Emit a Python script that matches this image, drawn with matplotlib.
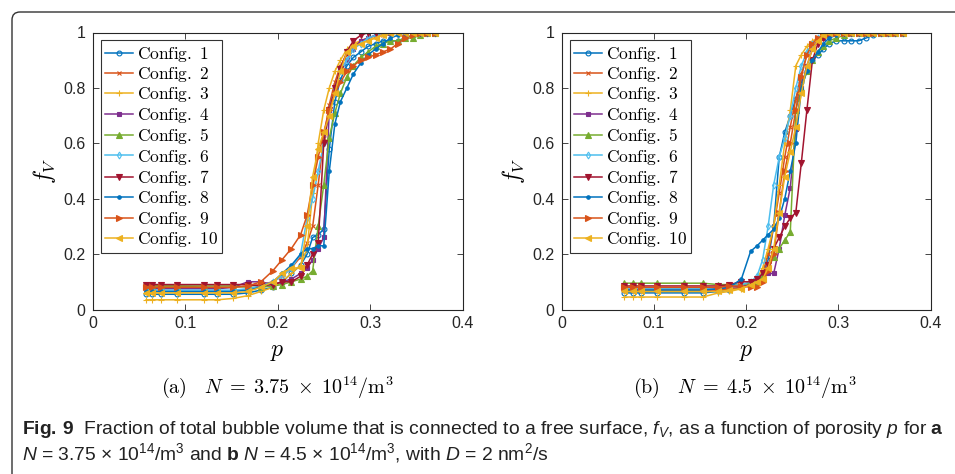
import matplotlib
matplotlib.use("Agg")
import matplotlib.pyplot as plt
from matplotlib.font_manager import FontProperties
from matplotlib.patches import FancyBboxPatch

# porosity sample points (shared per panel)
P_A = [0.058, 0.064, 0.074, 0.091, 0.12, 0.135, 0.152, 0.168, 0.182, 0.195, 0.205,
       0.215, 0.225, 0.232, 0.238, 0.244, 0.25, 0.256, 0.262, 0.268, 0.275, 0.282,
       0.29, 0.298, 0.306, 0.314, 0.322, 0.33, 0.338, 0.346, 0.354, 0.362, 0.37]
P_B = [0.068, 0.077, 0.086, 0.104, 0.133, 0.153, 0.17, 0.182, 0.195, 0.205, 0.212,
       0.218, 0.224, 0.23, 0.236, 0.242, 0.248, 0.254, 0.26, 0.266, 0.272, 0.278,
       0.284, 0.29, 0.298, 0.306, 0.314, 0.322, 0.33, 0.338, 0.346, 0.354, 0.362, 0.37]

# (a) N = 3.75e14 /m^3
A1 = [0.055]*7 + [0.06, 0.07, 0.08, 0.1, 0.13, 0.16, 0.2, 0.26, 0.27, 0.29, 0.58, 0.75, 0.83,
                  0.88, 0.91, 0.93, 0.95, 0.96, 0.97, 0.97, 0.97, 0.98, 0.99, 1, 1, 1]
A2 = [0.085]*4 + [0.08]*3 + [0.085, 0.09, 0.1, 0.12, 0.15, 0.19, 0.24, 0.3, 0.45, 0.62, 0.74,
                             0.82, 0.88, 0.92, 0.95, 0.97, 0.98, 0.99, 0.99] + [1]*7
A3 = [0.035]*6 + [0.04, 0.05, 0.065, 0.08, 0.1, 0.13, 0.16, 0.22, 0.42, 0.6, 0.72, 0.8, 0.86,
                  0.9, 0.94, 0.96, 0.97, 0.98, 0.98, 0.99, 0.99] + [1]*6
A4 = [0.075]*6 + [0.08, 0.1, 0.1, 0.09, 0.1, 0.11, 0.13, 0.15, 0.18, 0.22, 0.26, 0.72, 0.8,
                  0.86, 0.9, 0.94, 0.97, 0.98, 0.99] + [1]*8
A5 = [0.085]*7 + [0.08, 0.08, 0.085, 0.09, 0.1, 0.11, 0.12, 0.14, 0.3, 0.45, 0.62, 0.71, 0.78,
                  0.84, 0.88, 0.91, 0.93, 0.95, 0.96, 0.97, 0.97, 0.98, 0.98, 0.99, 1, 1]
A6 = [0.07]*7 + [0.075, 0.085, 0.1, 0.12, 0.15, 0.2, 0.33, 0.4, 0.5, 0.6, 0.72, 0.8, 0.86,
                 0.9, 0.94, 0.96, 0.98, 0.99] + [1]*8
A7 = [0.09]*7 + [0.09, 0.085, 0.09, 0.1, 0.1, 0.12, 0.16, 0.2, 0.24, 0.6, 0.72, 0.8, 0.87,
                 0.93, 0.97, 0.99] + [1]*10
A8 = [0.065]*7 + [0.07, 0.08, 0.1, 0.13, 0.16, 0.2, 0.22, 0.22, 0.23, 0.23, 0.5, 0.67, 0.75,
                  0.8, 0.85, 0.89, 0.92, 0.94, 0.96, 0.98, 0.99] + [1]*5
A9 = [0.08]*7 + [0.085, 0.1, 0.14, 0.18, 0.22, 0.27, 0.34, 0.45, 0.55, 0.64, 0.72, 0.78, 0.82,
                 0.86, 0.88, 0.9, 0.91, 0.92, 0.93, 0.94, 0.96, 0.98, 0.99, 1, 1, 1]
A10 = [0.06]*7 + [0.065, 0.08, 0.1, 0.13, 0.15, 0.15, 0.3, 0.48, 0.58, 0.64, 0.7, 0.78, 0.86,
                  0.93, 0.95, 0.96, 0.97, 0.98, 0.99] + [1]*7

# (b) N = 4.5e14 /m^3
B1 = [0.06]*6 + [0.065, 0.07, 0.08, 0.09, 0.1, 0.13, 0.18, 0.3, 0.55, 0.64, 0.7, 0.76, 0.82,
                 0.86, 0.9, 0.92, 0.94, 0.96, 0.97, 0.97, 0.97, 0.97, 0.98, 0.99] + [1]*4
B2 = [0.07]*6 + [0.07, 0.075, 0.08, 0.09, 0.1, 0.13, 0.2, 0.3, 0.42, 0.55, 0.66, 0.76, 0.85,
                 0.92, 0.96, 0.98, 0.99] + [1]*11
B3 = [0.045]*6 + [0.06, 0.065, 0.075, 0.09, 0.11, 0.15, 0.22, 0.3, 0.45, 0.6, 0.72, 0.88, 0.92,
                  0.95, 0.97, 0.98, 0.99] + [1]*11
B4 = [0.07]*6 + [0.075, 0.08, 0.085, 0.09, 0.1, 0.12, 0.13, 0.13, 0.22, 0.34, 0.44, 0.65, 0.8,
                 0.88, 0.94, 0.97, 0.98, 0.99] + [1]*10
B5 = [0.095]*6 + [0.09, 0.09, 0.09, 0.095, 0.1, 0.12, 0.15, 0.19, 0.22, 0.25, 0.28, 0.72, 0.8,
                  0.86, 0.9, 0.93, 0.95, 0.97, 0.98, 0.99] + [1]*8
B6 = [0.075]*6 + [0.08, 0.085, 0.09, 0.1, 0.12, 0.18, 0.3, 0.45, 0.55, 0.62, 0.7, 0.8, 0.88,
                  0.93, 0.96, 0.98, 0.99] + [1]*11
B7 = [0.085]*6 + [0.085, 0.09, 0.1, 0.1, 0.11, 0.13, 0.16, 0.22, 0.26, 0.3, 0.33, 0.35, 0.53,
                  0.72, 0.9, 0.96, 0.98, 0.99] + [1]*10
B8 = [0.07]*6 + [0.075, 0.08, 0.11, 0.21, 0.23, 0.25, 0.27, 0.29, 0.33, 0.4, 0.5, 0.6, 0.8,
                 0.86, 0.9, 0.93, 0.96, 0.98, 0.99] + [1]*9
B9 = [0.08]*6 + [0.08, 0.085, 0.085, 0.08, 0.08, 0.1, 0.14, 0.2, 0.35, 0.5, 0.6, 0.72, 0.84,
                 0.92, 0.96, 0.98, 0.99] + [1]*11
B10 = [0.065]*6 + [0.065, 0.07, 0.075, 0.09, 0.1, 0.11, 0.15, 0.22, 0.35, 0.48, 0.57, 0.66, 0.78,
                   0.88, 0.94, 0.97, 0.99] + [1]*11

SERIES_A = [A1, A2, A3, A4, A5, A6, A7, A8, A9, A10]
SERIES_B = [B1, B2, B3, B4, B5, B6, B7, B8, B9, B10]
LABELS = [f"Config. {i}" for i in range(1, 11)]
X_TICKS = [0, 0.1, 0.2, 0.3, 0.4]
Y_TICKS = [0, 0.2, 0.4, 0.6, 0.8, 1]

COLORS = ["#0072BD", "#D95319", "#EDB120", "#7E2F8E", "#77AC30",
          "#4DBEEE", "#A2142F", "#0072BD", "#D95319", "#EDB120"]
MARKERS = ["o", "x", "+", "s", "^", "d", "v", ".", ">", "<"]
MSIZE = [3.5, 3, 4, 3, 4, 3.5, 4, 5, 4, 4]
HOLLOW = {"o", "d"}

CAPFONT = "Liberation Sans"
plt.rcParams["font.family"] = "Liberation Sans"
plt.rcParams["mathtext.fontset"] = "custom"
plt.rcParams["mathtext.rm"] = CAPFONT
plt.rcParams["mathtext.it"] = CAPFONT + ":italic"
plt.rcParams["mathtext.bf"] = CAPFONT + ":bold"

W, H = 955, 474
fig = plt.figure(figsize=(W / 100, H / 100), dpi=100)

# outer frame of the figure box
frame = FancyBboxPatch((0.12, -0.5), 10.0, 4.74 - 0.12 + 0.5,
                       boxstyle="round,pad=0,rounding_size=0.08",
                       transform=fig.dpi_scale_trans, fc="none", ec="#333333", lw=1.0)
fig.add_artist(frame)

legprop = FontProperties(size=12.5, math_fontfamily="cm")


def draw_panel(ax, pvals, series):
    for f, lab, c, m, ms in zip(series, LABELS, COLORS, MARKERS, MSIZE):
        ax.plot(pvals, f, color=c, marker=m, ms=ms, lw=1.1, mew=0.8,
                mfc="none" if m in HOLLOW else c,
                label=r"$\mathrm{" + lab.replace(" ", r"\ ") + "}$")
    ax.set_xlim(0, 0.4)
    ax.set_ylim(0, 1)
    ax.set_xticks(X_TICKS)
    ax.set_xticklabels([f"{v:g}" for v in X_TICKS])
    ax.set_yticks(Y_TICKS)
    ax.set_yticklabels([f"{v:g}" for v in Y_TICKS])
    ax.tick_params(direction="in", top=True, right=True, length=4, width=0.6,
                   labelsize=11.5, colors="#262626", pad=5)
    for s in ax.spines.values():
        s.set_linewidth(0.8)
        s.set_color("#262626")
    ax.set_xlabel(r"$p$", fontsize=17, math_fontfamily="cm", labelpad=7)
    ax.set_ylabel(r"$f_V$", fontsize=17, math_fontfamily="cm", labelpad=4)
    leg = ax.legend(loc="upper left", bbox_to_anchor=(0.023, 0.972), borderaxespad=0,
                    prop=legprop, frameon=True, fancybox=False, handlelength=1.6,
                    handletextpad=0.2, labelspacing=0.08, borderpad=0.25)
    leg.get_frame().set_edgecolor("black")
    leg.get_frame().set_linewidth(0.8)


ax1 = fig.add_axes([92.5 / W, 1 - 309.5 / H, 370 / W, 277 / H])
draw_panel(ax1, P_A, SERIES_A)
ax2 = fig.add_axes([561.5 / W, 1 - 309.5 / H, 369 / W, 277 / H])
draw_panel(ax2, P_B, SERIES_B)

fig.text(278 / W, 1 - 387 / H,
         r"$\mathrm{(a)}\quad N\;=\;3.75\;\times\;10^{14}/\mathrm{m}^3$",
         fontsize=14.5, math_fontfamily="cm", ha="center", va="center")
fig.text(745 / W, 1 - 387 / H,
         r"$\mathrm{(b)}\quad N\;=\;4.5\;\times\;10^{14}/\mathrm{m}^3$",
         fontsize=14.5, math_fontfamily="cm", ha="center", va="center")

cap1 = (r"$\mathbf{Fig.\,9}$  Fraction of total bubble volume that is connected to a free "
        r"surface, $f_V$, as a function of porosity $p$ for $\mathbf{a}$")
cap2 = (r"$N$ = 3.75 × 10$^{14}$/m$^3$ and $\mathbf{b}$ $N$ = 4.5 × 10$^{14}$/m$^3$, "
        r"with $D$ = 2 nm$^2$/s")
fig.text(22 / W, 1 - 429 / H, cap1, fontsize=13.9, family=CAPFONT, ha="left", va="center",
         color="#222222")
fig.text(22 / W, 1 - 453 / H, cap2, fontsize=13.9, family=CAPFONT, ha="left", va="center",
         color="#222222")

fig.savefig("out.png", dpi=100)
